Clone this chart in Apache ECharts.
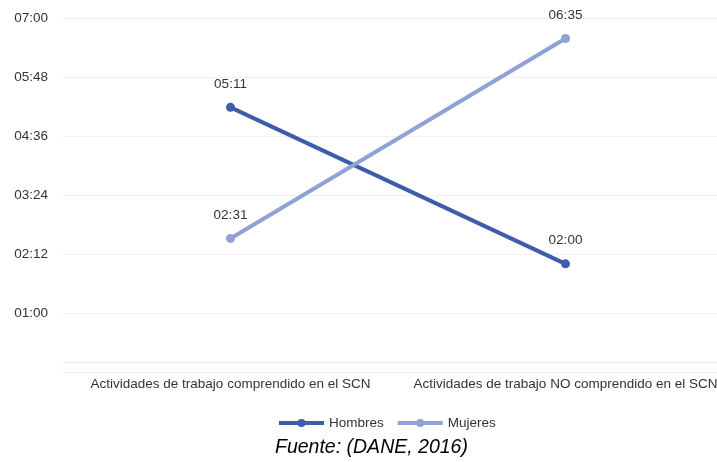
<!DOCTYPE html>
<html>
<head>
<meta charset="utf-8">
<script src="https://cdn.jsdelivr.net/npm/echarts@6/dist/echarts.min.js"></script>
<style>
  html, body { margin: 0; padding: 0; background: #fff; }
  #chart { width: 717px; height: 462px; }
</style>
</head>
<body>
<div id="chart"></div>
<script>
// time values in minutes
var categories = ['Actividades de trabajo comprendido en el SCN', 'Actividades de trabajo NO comprendido en el SCN'];
var hombres = [311, 120];   // 05:11, 02:00
var mujeres = [151, 395];   // 02:31, 06:35
var seriesNames = ['Hombres', 'Mujeres'];

function hhmm(v) {
    var h = Math.floor(v / 60), m = Math.round(v % 60);
    return (h < 10 ? '0' : '') + h + ':' + (m < 10 ? '0' : '') + m;
}

var myChart = echarts.init(document.getElementById('chart'));
var font = 'Liberation Sans';
var fs = 13.5;
myChart.setOption({
    animation: false,
    textStyle: { fontFamily: font },
    color: ['#3d5dab', '#8fa1d6'],
    grid: { left: 63, width: 670, top: 18, bottom: 90, containLabel: false, outerBoundsMode: 'none' },
    legend: {
        top: 411,
        left: 272,
        itemWidth: 45,
        itemHeight: 10,
        itemGap: 12,
        lineStyle: { width: 4 },
        textStyle: { fontSize: fs, color: '#333', fontFamily: font },
        data: seriesNames
    },
    title: {
        text: 'Fuente: (DANE, 2016)',
        left: 275,
        top: 438,
        padding: 0,
        textStyle: { fontSize: 19.5, fontStyle: 'italic', fontWeight: 'normal', color: '#000', fontFamily: font }
    },
    xAxis: {
        type: 'category',
        data: categories,
        axisLine: { lineStyle: { color: '#e6e8ee' } },
        axisTick: { show: false },
        axisLabel: { color: '#333', fontSize: fs, margin: 5, interval: 0, hideOverlap: false, fontFamily: font }
    },
    yAxis: {
        type: 'value',
        min: -12,
        max: 420,
        interval: 72,
        axisLine: { show: false },
        axisTick: { show: false },
        splitLine: { lineStyle: { color: '#eef0f4' } },
        axisLabel: {
            color: '#333', fontSize: fs, margin: 15, fontFamily: font,
            formatter: function (v) { return v < 0 ? '' : hhmm(v); }
        }
    },
    series: [
        {
            name: seriesNames[0], type: 'line', data: hombres,
            symbol: 'circle', symbolSize: 9,
            lineStyle: { width: 4 },
            label: { show: true, position: 'top', distance: 12, color: '#333', fontSize: fs, formatter: function (p) { return hhmm(p.value); } },
            markLine: {
                silent: true, symbol: 'none', label: { show: false },
                lineStyle: { color: '#e6e8ee', type: 'solid', width: 1 },
                data: [{ yAxis: 0 }]
            }
        },
        {
            name: seriesNames[1], type: 'line', data: mujeres,
            symbol: 'circle', symbolSize: 9,
            lineStyle: { width: 4 },
            label: { show: true, position: 'top', distance: 12, color: '#333', fontSize: fs, formatter: function (p) { return hhmm(p.value); } }
        }
    ]
});
</script>
</body>
</html>
